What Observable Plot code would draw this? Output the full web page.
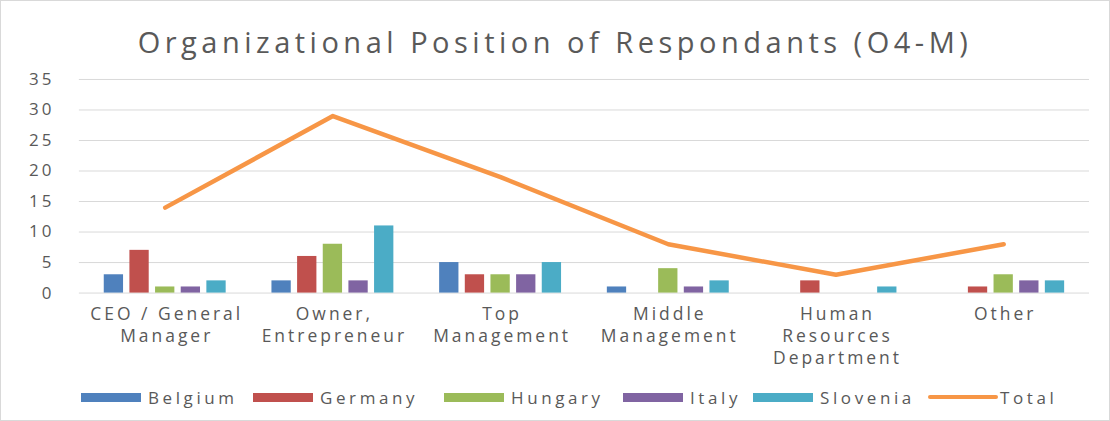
<!DOCTYPE html>
<html>
<head>
<meta charset="utf-8">
<script src="https://cdn.jsdelivr.net/npm/d3@7"></script>
<script src="https://cdn.jsdelivr.net/npm/@observablehq/plot@0.6"></script>
<style>
  html, body { margin: 0; padding: 0; background: #fff; }
  #wrap { position: relative; width: 1110px; height: 421px; box-sizing: border-box; border: 1px solid #d9d9d9; overflow: hidden; font-family: "Open Sans", sans-serif; color: #595959; }
  #title { position: absolute; left: 0; top: 0; width: 1108px; height: 60px; text-align: center; font-size: 29px; line-height: 81px; letter-spacing: 4.5px; color: #595959; white-space: nowrap; }
  #chart { position: absolute; left: 0; top: 59px; }
  #legend { position: absolute; left: 80px; top: 385px; height: 22px; font-size: 17px; letter-spacing: 3.6px; }
  .item { position: absolute; top: 0; display: flex; align-items: center; height: 22px; white-space: nowrap; }
  .sw { width: 60px; margin-right: 7px; }
</style>
</head>
<body>
<div id="wrap">
  <div id="title">Organizational Position of Respondants (O4-M)</div>
  <div id="chart"></div>
  <div id="legend"></div>
</div>
<script>
const categories = ["CEO / General Manager", "Owner, Entrepreneur", "Top Management", "Middle Management", "Human Resources Department", "Other"];
const categoryLabels = ["CEO / General\nManager", "Owner,\nEntrepreneur", "Top\nManagement", "Middle\nManagement", "Human\nResources\nDepartment", "Other"];
const countries = ["Belgium", "Germany", "Hungary", "Italy", "Slovenia"];
const belgium  = [3, 2, 5, 1, 0, 0];
const germany  = [7, 6, 3, 0, 2, 1];
const hungary  = [1, 8, 3, 4, 0, 3];
const italy    = [1, 2, 3, 1, 0, 2];
const slovenia = [2, 11, 5, 2, 1, 2];
const total    = [14, 29, 19, 8, 3, 8];
const yTicks   = [0, 5, 10, 15, 20, 25, 30, 35];
const legendNames = ["Belgium", "Germany", "Hungary", "Italy", "Slovenia", "Total"];

const colors = {Belgium: "#4f81bd", Germany: "#c0504d", Hungary: "#9bbb59", Italy: "#8064a2", Slovenia: "#4bacc6", Total: "#f79646"};
const seriesValues = [belgium, germany, hungary, italy, slovenia];

const W = 1110, H = 310, mL = 78, mR = 20, mT = 19, mB = 77;
const band = (W - mL - mR) / categories.length;
const barW = 20, step = 25.7;

const barMarks = countries.map((c, i) => {
  const data = categories.map((cat, j) => ({category: cat, value: seriesValues[i][j]}));
  const off = (i - 2) * step;
  return Plot.barY(data, {
    x: "category", y: "value", fill: colors[c],
    insetLeft: (band - barW) / 2 + off,
    insetRight: (band - barW) / 2 - off
  });
});

const totalData = categories.map((cat, j) => ({category: cat, value: total[j]}));
const labelOf = new Map(categories.map((c, i) => [c, categoryLabels[i]]));

const plot = Plot.plot({
  width: W, height: H,
  marginLeft: mL, marginRight: mR, marginTop: mT, marginBottom: mB,
  style: {fontFamily: "'Open Sans', sans-serif", color: "#595959", background: "transparent", overflow: "visible"},
  x: {domain: categories, padding: 0, axis: null},
  y: {domain: [0, 35], ticks: yTicks, axis: null},
  marks: [
    Plot.gridY(yTicks, {stroke: "#d9d9d9", strokeOpacity: 1, strokeWidth: 1}),
    ...barMarks,
    Plot.lineY(totalData, {x: "category", y: "value", stroke: colors.Total, strokeWidth: 4.5, strokeLinejoin: "round", strokeLinecap: "round"}),
    Plot.axisY(yTicks, {tickSize: 0, tickPadding: 25, fontSize: 17, label: null, fill: "#595959", tickFormat: d => String(d)}),
    Plot.axisX({tickSize: 0, tickPadding: 12, fontSize: 17.5, lineHeight: 1.24, label: null, fill: "#595959", tickFormat: d => labelOf.get(d), dx: 1.5})
  ]
});
plot.style.letterSpacing = "3px";
document.getElementById("chart").appendChild(plot);

// legend item left positions (relative to legend box)
const legendLeft = [0, 172, 363, 542, 672, 847];
const legend = document.getElementById("legend");
legendNames.forEach((name, k) => {
  const item = document.createElement("div");
  item.className = "item";
  item.style.left = legendLeft[k] + "px";
  const sw = document.createElement("div");
  sw.className = "sw";
  sw.style.background = colors[name];
  if (name === "Total") {
    sw.style.height = "4px"; sw.style.width = "70px"; sw.style.marginRight = "2px"; sw.style.borderRadius = "2px";
  } else {
    sw.style.height = "9px";
  }
  const t = document.createElement("span");
  t.textContent = name;
  item.appendChild(sw); item.appendChild(t);
  legend.appendChild(item);
});
</script>
</body>
</html>
